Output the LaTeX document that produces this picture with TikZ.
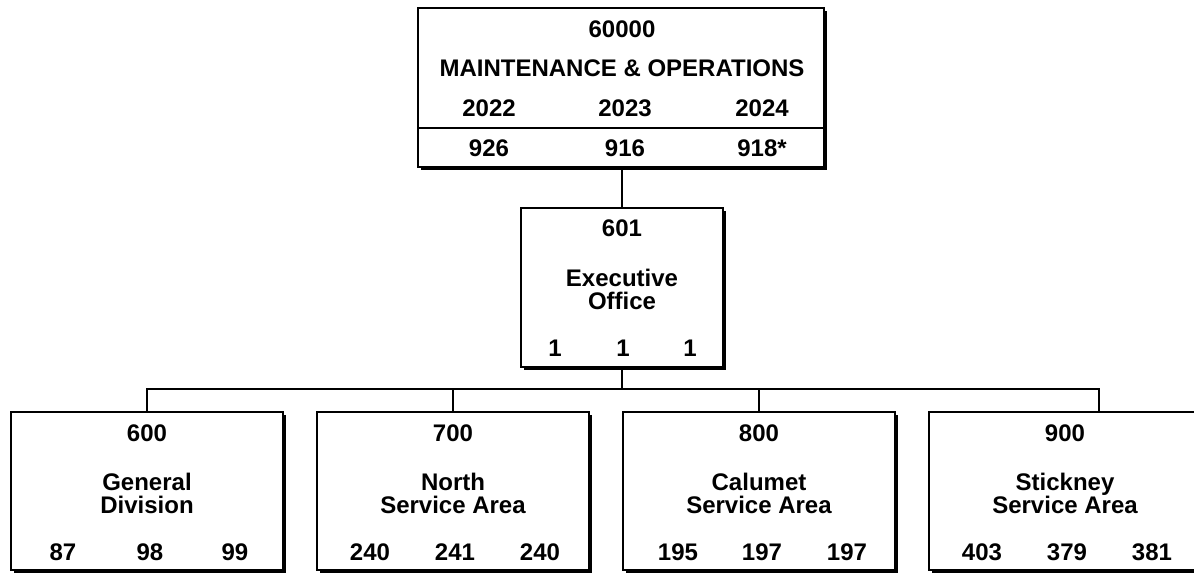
\documentclass[tikz,border=0pt]{standalone}
\usepackage{fontspec}
\setmainfont{Liberation Sans}
\usetikzlibrary{shadows}

\begin{document}
\begin{tikzpicture}[x=0.75pt,y=-0.75pt,
  unitbox/.style={draw,line width=1.6pt,fill=white,inner sep=0pt,
    drop shadow={shadow xshift=2.5pt,shadow yshift=-2.5pt,fill=black,opacity=1}},
  lbl/.style={inner sep=0pt,align=center,font=\fontsize{18}{17.25}\selectfont\bfseries},
  link/.style={line width=1.6pt}]
\path[use as bounding box] (0,0) rectangle (1194,572);
% boxes
\node[unitbox,minimum width=304.5pt,minimum height=119.25pt] (top) at (621,87.5) {};
\node[unitbox,minimum width=151.5pt,minimum height=119.25pt] (exec) at (622,287.5) {};
\node[unitbox,minimum width=204pt,minimum height=118.5pt] (div600) at (147,491) {};
\node[unitbox,minimum width=204pt,minimum height=118.5pt] (div700) at (453,491) {};
\node[unitbox,minimum width=204pt,minimum height=118.5pt] (div800) at (759,491) {};
\node[unitbox,minimum width=204pt,minimum height=118.5pt] (div900) at (1065,491) {};
\draw[link] (418,128) -- (824,128);
% connectors
\coordinate (bus) at (622,389);
\coordinate (drop900) at (1099,412);
\draw[link] (top.south -| exec.north) -- (exec.north);
\draw[link] (exec.south) -- (bus);
\draw[link] (div600.north) -- (div600.north |- bus) -- (bus -| drop900) -- (drop900);
\draw[link] (div700.north) -- (div700.north |- bus);
\draw[link] (div800.north) -- (div800.north |- bus);
% top box
\node[lbl] (code60000) at (622,29) {60000};
\node[lbl] (name60000) at (622,68) {MAINTENANCE \& OPERATIONS};
\node[lbl] (y2022) at (489,108) {2022};
\node[lbl] (y2023) at (625,108) {2023};
\node[lbl] (y2024) at (762,108) {2024};
\node[lbl] (n2022) at (489,148) {926};
\node[lbl] (n2023) at (625,148) {916};
\node[lbl] (n2024) at (762,148) {918*};
% executive office
\node[lbl] (code601) at (622,228) {601};
\node[lbl] (name601) at (622,289) {Executive\\Office};
\node[lbl] (a601) at (555,348) {1};
\node[lbl] (b601) at (623,348) {1};
\node[lbl] (c601) at (690,348) {1};
% divisions
\node[lbl] (code600) at (147,433) {600};
\node[lbl] (name600) at (147,493) {General\\Division};
\node[lbl] (a600) at (63,552) {87};
\node[lbl] (b600) at (150,552) {98};
\node[lbl] (c600) at (235,552) {99};
\node[lbl] (code700) at (453,433) {700};
\node[lbl] (name700) at (453,493) {North\\Service Area};
\node[lbl] (a700) at (370,552) {240};
\node[lbl] (b700) at (455,552) {241};
\node[lbl] (c700) at (540,552) {240};
\node[lbl] (code800) at (759,433) {800};
\node[lbl] (name800) at (759,493) {Calumet\\Service Area};
\node[lbl] (a800) at (678,552) {195};
\node[lbl] (b800) at (762,552) {197};
\node[lbl] (c800) at (847,552) {197};
\node[lbl] (code900) at (1065,433) {900};
\node[lbl] (name900) at (1065,493) {Stickney\\Service Area};
\node[lbl] (a900) at (982,552) {403};
\node[lbl] (b900) at (1067,552) {379};
\node[lbl] (c900) at (1152,552) {381};
\end{tikzpicture}
\end{document}
